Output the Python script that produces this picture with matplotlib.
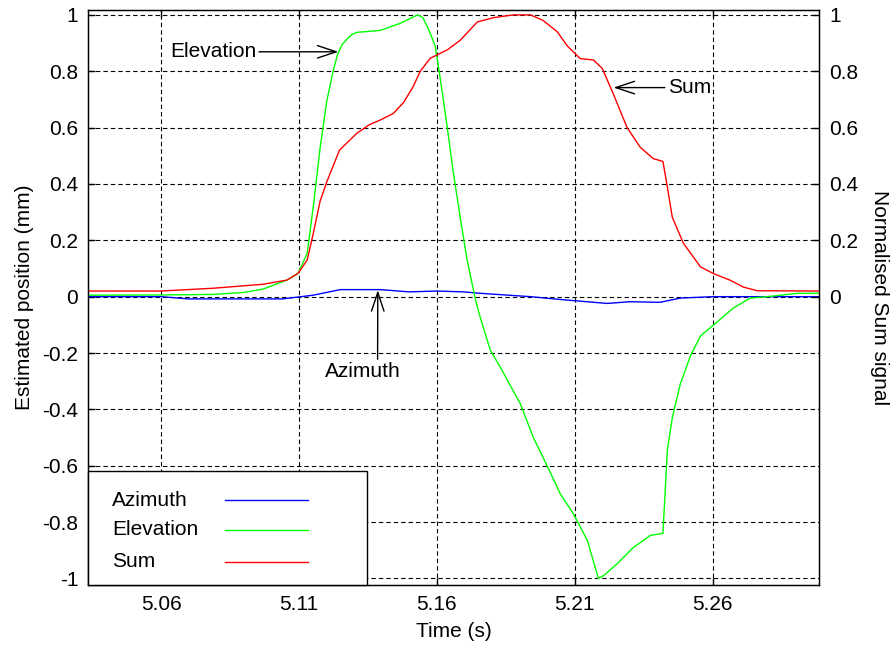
import numpy as np
import matplotlib.pyplot as plt
from matplotlib.patches import Rectangle
from matplotlib.lines import Line2D

plt.rcParams['font.family'] = ['Liberation Sans', 'DejaVu Sans']
plt.rcParams['axes.unicode_minus'] = False

# series
series_names = ['Azimuth', 'Elevation', 'Sum']
series_colors = ['#0000ff', '#00ff00', '#ff0000']

az_t = [5.0335, 5.06, 5.07, 5.104, 5.115, 5.125, 5.1395, 5.15, 5.16, 5.1697,
        5.1757, 5.194, 5.2048, 5.2218, 5.23, 5.241, 5.2483, 5.2604, 5.2987]
az = [0.0, 0.0, -0.008, -0.008, 0.005, 0.025, 0.025, 0.017, 0.02, 0.017,
      0.012, 0.0, -0.01, -0.024, -0.018, -0.02, -0.005, 0.0, 0.0]

elev_t = [5.0335, 5.06, 5.079, 5.090, 5.097, 5.1057, 5.1097, 5.113, 5.1152, 5.1177,
          5.1202, 5.1224, 5.124, 5.1257, 5.1275, 5.1292, 5.131, 5.1395, 5.1467, 5.153,
          5.155, 5.1576, 5.1594, 5.161, 5.1638, 5.166, 5.1685, 5.171, 5.174, 5.1757,
          5.1794, 5.183, 5.1903, 5.195, 5.2, 5.2048, 5.2095, 5.2146, 5.2186, 5.2205,
          5.2255, 5.2313, 5.2375, 5.242, 5.243, 5.2436, 5.2454, 5.2483, 5.252, 5.2556,
          5.2604, 5.2676, 5.2737, 5.28, 5.2908, 5.2987]
elev = [0.005, 0.006, 0.008, 0.015, 0.027, 0.059, 0.083, 0.154, 0.32, 0.53,
        0.70, 0.80, 0.86, 0.895, 0.915, 0.93, 0.938, 0.945, 0.97, 1.0,
        0.99, 0.935, 0.89, 0.79, 0.60, 0.44, 0.28, 0.13, -0.01, -0.072,
        -0.19, -0.25, -0.38, -0.50, -0.60, -0.70, -0.77, -0.865, -1.0, -0.99,
        -0.947, -0.89, -0.847, -0.84, -0.66, -0.545, -0.43, -0.31, -0.21, -0.14,
        -0.10, -0.04, -0.005, 0.0, 0.012, 0.012]

sum_t = [5.0335, 5.06, 5.079, 5.097, 5.1057, 5.1097, 5.113, 5.1152, 5.1177, 5.1202,
         5.1247, 5.131, 5.1355, 5.1395, 5.1442, 5.148, 5.1514, 5.154, 5.1576, 5.1638,
         5.1685, 5.1747, 5.1805, 5.1877, 5.194, 5.1986, 5.2037, 5.2073, 5.212, 5.2168,
         5.22, 5.224, 5.229, 5.2338, 5.2385, 5.242, 5.2436, 5.2454, 5.2494, 5.2556,
         5.2603, 5.2665, 5.2712, 5.2762, 5.2987]
sum_sig = [0.02, 0.02, 0.03, 0.044, 0.059, 0.083, 0.13, 0.225, 0.34, 0.41,
           0.52, 0.58, 0.61, 0.627, 0.65, 0.69, 0.745, 0.80, 0.846, 0.876,
           0.91, 0.975, 0.99, 1.0, 1.0, 0.98, 0.94, 0.89, 0.845, 0.84,
           0.81, 0.72, 0.60, 0.53, 0.49, 0.48, 0.39, 0.282, 0.19, 0.106,
           0.082, 0.058, 0.034, 0.021, 0.02]

x_ticks = [5.06, 5.11, 5.16, 5.21, 5.26]
x_ticklabels = ['5.06', '5.11', '5.16', '5.21', '5.26']
left_ticks = [-1, -0.8, -0.6, -0.4, -0.2, 0, 0.2, 0.4, 0.6, 0.8, 1]
left_ticklabels = ['-1', '-0.8', '-0.6', '-0.4', '-0.2', '0', '0.2', '0.4', '0.6', '0.8', '1']
right_ticks = [0, 0.2, 0.4, 0.6, 0.8, 1]
right_ticklabels = ['0', '0.2', '0.4', '0.6', '0.8', '1']

# annotation anchors (point on curve, text position)
elev_pt, elev_txt = (5.1243, 0.869), (5.0945, 0.869)
sum_pt, sum_txt = (5.2241, 0.742), (5.2437, 0.742)
az_pt, az_txt = (5.1386, 0.023), (5.1333, -0.232)

FS = 15
fig = plt.figure(figsize=(8.9, 6.55), dpi=100)
ax = fig.add_axes([0.0989, 0.107, 0.8216, 0.878])

ax.plot(az_t, az, color=series_colors[0], lw=1.0, zorder=3)
ax.plot(elev_t, elev, color=series_colors[1], lw=1.0, zorder=3)
ax.plot(sum_t, sum_sig, color=series_colors[2], lw=1.0, zorder=3)

ax.set_xlim(5.0335, 5.2987)
ax.set_ylim(-1.023, 1.018)
ax.set_xticks(x_ticks)
ax.set_xticklabels(x_ticklabels)
ax.set_yticks(left_ticks)
ax.set_yticklabels(left_ticklabels)
ax.grid(True, color='black', linestyle=(0, (4.0, 2.7)), linewidth=0.8)
ax.tick_params(direction='in', length=5, width=1, labelsize=FS, top=True, right=True,
               pad=7)
for s in ax.spines.values():
    s.set_linewidth(1.0)
ax.set_xlabel('Time (s)', fontsize=FS, labelpad=6)
ax.set_ylabel('Estimated position (mm)', fontsize=FS, labelpad=6)

ax2 = ax.twinx()
ax2.set_ylim(ax.get_ylim())
ax2.set_yticks(right_ticks)
ax2.set_yticklabels(right_ticklabels)
ax2.tick_params(direction='in', length=5, width=1, labelsize=FS, pad=7)
ax2.set_ylabel('Normalised Sum signal', fontsize=FS, rotation=270, labelpad=22)

arrow = dict(arrowstyle='->,head_length=0.9,head_width=0.3', color='black', lw=1.0,
             shrinkA=0, shrinkB=0)
ax.annotate('Elevation', xy=elev_pt, xytext=elev_txt, ha='right', va='center',
            fontsize=FS, arrowprops=dict(arrow, relpos=(1.0, 0.5)), zorder=5)
ax.annotate('Sum', xy=sum_pt, xytext=sum_txt, ha='left', va='center',
            fontsize=FS, arrowprops=dict(arrow, relpos=(0.0, 0.5)), zorder=5)
ax.annotate('Azimuth', xy=az_pt, xytext=az_txt, ha='center', va='top',
            fontsize=FS, arrowprops=dict(arrow, relpos=(0.69, 1.0)), zorder=5)

# legend box, MATLAB style: labels left, sample lines right
ax.add_patch(Rectangle((0, 0), 0.381, 0.198, transform=ax.transAxes, facecolor='white',
                       edgecolor='black', lw=1.0, zorder=6, clip_on=False))
row_y = [0.147, 0.096, 0.0405]
for name, col, yy in zip(series_names, series_colors, row_y):
    ax.text(0.033, yy, name, transform=ax.transAxes, fontsize=FS, va='center',
            ha='left', zorder=7)
    ax.add_line(Line2D([0.187, 0.301], [yy, yy], transform=ax.transAxes, color=col,
                       lw=1.0, zorder=7))

fig.savefig('out.png', dpi=100)
